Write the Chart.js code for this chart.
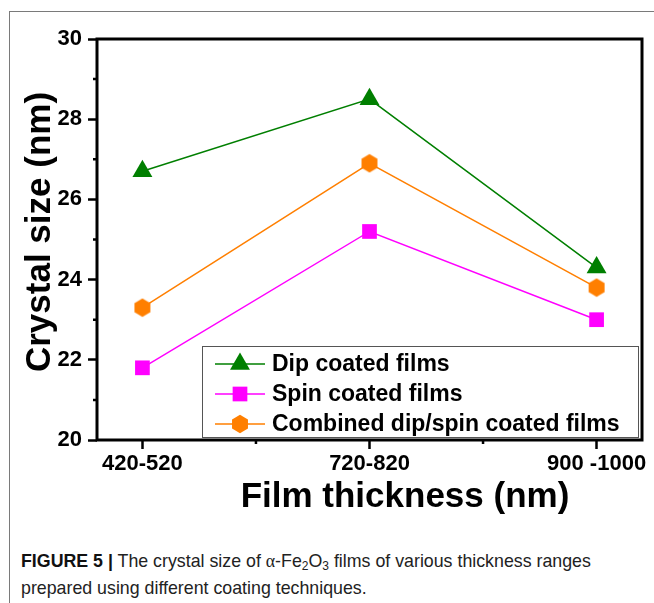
<!DOCTYPE html>
<html>
<head>
<meta charset="utf-8">
<script src="https://cdn.jsdelivr.net/npm/chart.js@4.4.1/dist/chart.umd.min.js"></script>
<style>
  body { margin: 0; background: #fff; }
  #frame { position: absolute; left: 9px; top: 11px; width: 700px; height: 700px;
           border-top: 1px solid #7a7a7a; border-left: 1px solid #7a7a7a; }
  #wrap { position: absolute; left: 0; top: 0; width: 654px; height: 520px; }
  #caption { position: absolute; left: 21px; top: 548px; font-family: 'Liberation Sans Narrow', 'Liberation Sans', Arial, sans-serif;
             font-size: 17.8px; line-height: 27px; color: #222; white-space: nowrap; }
  #caption b { color: #111; }
  #caption sub { font-size: 12px; vertical-align: -3px; line-height: 0; }
  .greek { font-family: 'Liberation Serif', serif; }
</style>
</head>
<body>
<div id="frame"></div>
<div id="wrap"><canvas id="crystalChart" width="654" height="520"></canvas></div>
<div id="caption"><b>FIGURE 5 |</b> The crystal size of <span class="greek">α</span>-Fe<sub>2</sub>O<sub>3</sub> films of various thickness ranges<br>prepared using different coating techniques.</div>
<script>
// data
const categories = ['420-520', '720-820', '900 -1000'];
const dipCoated = [26.7, 28.5, 24.3];
const spinCoated = [21.8, 25.2, 23.0];
const combinedCoated = [23.3, 26.9, 23.8];
const seriesNames = ['Dip coated films', 'Spin coated films', 'Combined dip/spin coated films'];
const xTitle = 'Film thickness (nm)';
const yTitle = 'Crystal size (nm)';

// hexagon marker (pointy top)
function hexagonMarker(color) {
    const c = document.createElement('canvas');
    c.width = 20; c.height = 20;
    const g = c.getContext('2d');
    g.fillStyle = color;
    g.beginPath();
    for (let i = 0; i < 6; i++) {
        const a = Math.PI / 2 + i * Math.PI / 3;
        const px = 10 + 9.2 * Math.cos(a), py = 10 - 9.2 * Math.sin(a);
        if (i === 0) g.moveTo(px, py); else g.lineTo(px, py);
    }
    g.closePath();
    g.fill();
    return c;
}

const toPoints = values => values.map((v, i) => ({ x: i, y: v }));

// box frame, minor ticks, axis titles and legend inside the plot
const framePlugin = {
    id: 'frame',
    afterDraw(chart) {
        const { ctx, chartArea: a, scales } = chart;
        ctx.save();
        ctx.strokeStyle = '#000';
        ctx.lineWidth = 3;
        ctx.strokeRect(a.left, a.top, a.right - a.left, a.bottom - a.top);

        ctx.lineWidth = 2.5;
        ctx.beginPath();
        [21, 23, 25, 27, 29].forEach(v => {
            const y = scales.y.getPixelForValue(v);
            ctx.moveTo(a.left - 4, y); ctx.lineTo(a.left, y);
        });
        [0.5, 1.5].forEach(v => {
            const x = scales.x.getPixelForValue(v);
            ctx.moveTo(x, a.bottom); ctx.lineTo(x, a.bottom + 4);
        });
        ctx.stroke();

        // axis titles
        ctx.fillStyle = '#000';
        ctx.font = 'bold 35px "Liberation Sans", Arial, sans-serif';
        ctx.textAlign = 'center';
        ctx.textBaseline = 'alphabetic';
        ctx.fillText(xTitle, a.left + 308, a.bottom + 67);
        ctx.save();
        ctx.translate(50, a.top + 193);
        ctx.rotate(-Math.PI / 2);
        ctx.fillText(yTitle, 0, 0);
        ctx.restore();

        // legend
        const bx = a.right - 440, by = a.bottom - 94, bw = 436, bh = 91;
        ctx.fillStyle = '#fff';
        ctx.fillRect(bx, by, bw, bh);
        ctx.lineWidth = 1;
        ctx.strokeStyle = '#555';
        ctx.strokeRect(bx + 0.5, by + 0.5, bw, bh);
        ctx.font = 'bold 23px "Liberation Sans", Arial, sans-serif';
        ctx.textAlign = 'left';
        ctx.textBaseline = 'middle';
        chart.data.datasets.forEach((ds, i) => {
            const y = by + 18 + i * 30;
            ctx.strokeStyle = ds.borderColor;
            ctx.lineWidth = 1.5;
            ctx.beginPath();
            ctx.moveTo(bx + 13, y); ctx.lineTo(bx + 63, y);
            ctx.stroke();
            ctx.fillStyle = ds.pointBackgroundColor;
            Chart.helpers.drawPoint(ctx, { pointStyle: ds.pointStyle, radius: ds.pointRadius, borderWidth: 0, rotation: 0 }, bx + 38, y);
            ctx.fillStyle = '#000';
            ctx.fillText(ds.label, bx + 70, y + 1);
        });
        ctx.restore();
    }
};

const crystal = document.getElementById('crystalChart');

new Chart(crystal, {
    type: 'line',
    data: {
        datasets: [
            {
                label: seriesNames[0],
                data: toPoints(dipCoated),
                borderColor: '#007f00',
                pointBackgroundColor: '#007f00',
                pointStyle: 'triangle',
                pointRadius: 11.5
            },
            {
                label: seriesNames[1],
                data: toPoints(spinCoated),
                borderColor: '#ff00ff',
                pointBackgroundColor: '#ff00ff',
                pointStyle: 'rect',
                pointRadius: 10.4
            },
            {
                label: seriesNames[2],
                data: toPoints(combinedCoated),
                borderColor: '#ff7f00',
                pointBackgroundColor: '#ff7f00',
                pointStyle: hexagonMarker('#ff7f00'),
                pointRadius: 9.2
            }
        ]
    },
    options: {
        responsive: false,
        animation: false,
        datasets: { line: { borderWidth: 1.5, pointBorderWidth: 0, tension: 0 } },
        layout: { padding: { left: 0, top: 39, right: 12, bottom: 0 } },
        plugins: { legend: { display: false }, tooltip: { enabled: false } },
        scales: {
            x: {
                type: 'linear',
                min: -0.2,
                max: 2.2,
                afterBuildTicks: scale => { scale.ticks = [0, 0.5, 1, 1.5, 2].map(v => ({ value: v })); },
                afterFit: scale => { scale.height = 80; },
                border: { display: false },
                grid: {
                    drawOnChartArea: false,
                    tickLength: 9,
                    tickWidth: 2.5,
                    tickColor: c => Number.isInteger(c.tick.value) ? '#000' : 'rgba(0,0,0,0)'
                },
                ticks: {
                    autoSkip: false,
                    maxRotation: 0,
                    padding: 2,
                    color: '#000',
                    font: { family: '"Liberation Sans", Arial', size: 22, weight: 'bold' },
                    callback: v => Number.isInteger(v) ? categories[v] : ''
                }
            },
            y: {
                min: 20,
                max: 30,
                afterFit: scale => { scale.width = 97; },
                border: { display: false },
                grid: {
                    drawOnChartArea: false,
                    tickLength: 9,
                    tickWidth: 2.5,
                    tickColor: c => c.tick.value % 2 === 0 ? '#000' : 'rgba(0,0,0,0)'
                },
                ticks: {
                    stepSize: 1,
                    padding: 6,
                    color: '#000',
                    font: { family: '"Liberation Sans", Arial', size: 22, weight: 'bold' },
                    callback: v => v % 2 === 0 ? v : ''
                }
            }
        }
    },
    plugins: [framePlugin]
});
</script>
</body>
</html>
